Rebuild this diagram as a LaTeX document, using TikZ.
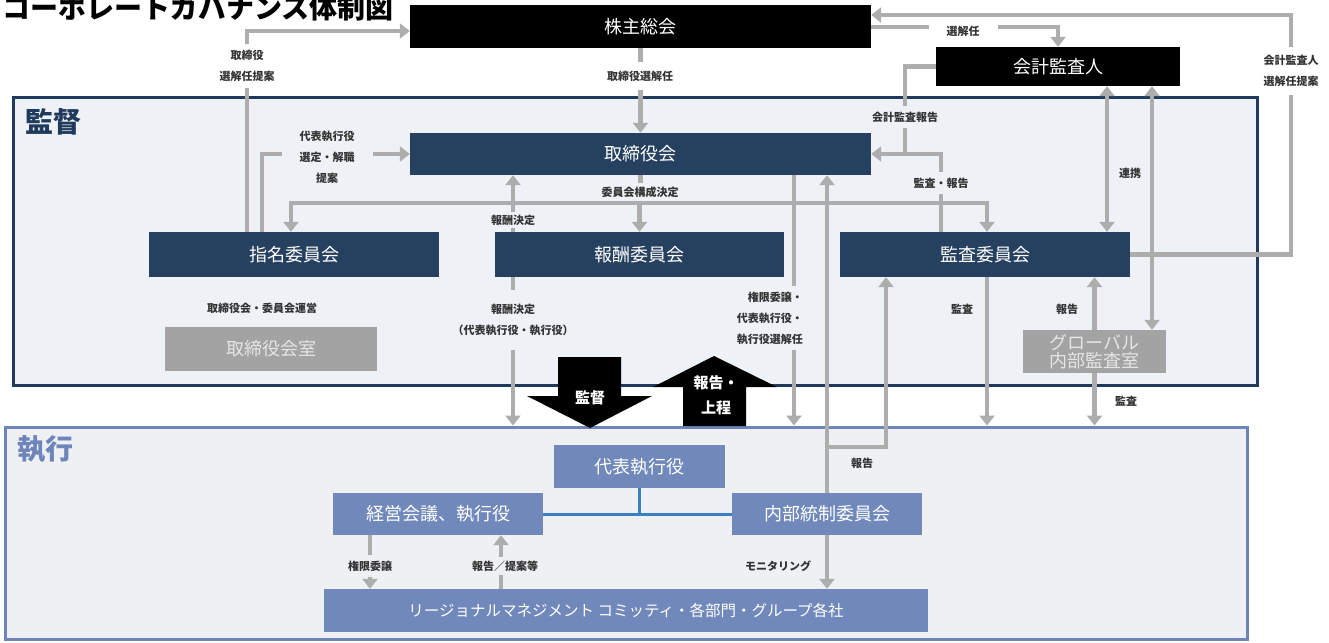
\documentclass[tikz,border=0pt]{standalone}
\usepackage{fontspec}
\setmainfont{Noto Sans CJK JP}
\usetikzlibrary{arrows.meta,calc,positioning}
\definecolor{navybox}{HTML}{26405F}
\definecolor{navyline}{HTML}{1F3A5C}
\definecolor{supbg}{HTML}{EEF2F7}
\definecolor{exebox}{HTML}{7088BA}
\definecolor{exeline}{HTML}{6D85B8}
\definecolor{exebg}{HTML}{EEF0F4}
\definecolor{officegray}{HTML}{A3A3A3}
\definecolor{wiregray}{HTML}{ADADAD}
\definecolor{linkblue}{HTML}{3D80C2}
\definecolor{notetext}{HTML}{333333}
\tikzset{
    blackbox/.style={
    rectangle,fill=black,text=white,inner sep=0pt,font=\fontsize{18}{22}\selectfont
    },
    committee/.style={
    rectangle,fill=navybox,text=white,inner sep=0pt,font=\fontsize{18}{22}\selectfont
    },
    office/.style={
    rectangle,fill=officegray,text=white!90!black,inner sep=0pt,font=\fontsize{18}{18}\selectfont
    },
    execbox/.style={
    rectangle,fill=exebox,text=white,inner sep=0pt,font=\fontsize{18}{22}\selectfont
    },
    supframe/.style={
    rectangle,draw=navyline,fill=supbg,line width=3pt,inner sep=0pt
    },
    exeframe/.style={
    rectangle,draw=exeline,fill=exebg,line width=3pt,inner sep=0pt
    },
    framehead/.style={
    font=\fontsize{28}{30}\selectfont\bfseries,inner sep=0pt
    },
    note/.style={
    fill=supbg,text=notetext,align=center,inner xsep=4pt,inner ysep=6pt,font=\fontsize{11}{21}\selectfont\bfseries
    },
    wire/.style={
    draw=wiregray,line width=4.5pt,>={Triangle[width=15pt,length=10pt]}
    },
    bluelink/.style={
    draw=linkblue,line width=3pt
    },
    bigarrow/.style={
    fill=black
    },
    arrowtext/.style={
    text=white,font=\fontsize{15}{25}\selectfont\bfseries,align=center,inner sep=0pt
    },
}
\begin{document}
\begin{tikzpicture}[x=1pt,y=-1pt]
  \clip (0,0) rectangle (1329,642);
  \fill[white] (0,0) rectangle (1329,642);

  % frames
  \node[supframe,minimum width=1244pt,minimum height=288pt] (sup) at (635,241) {};
  \node[exeframe,minimum width=1242pt,minimum height=212pt] (exe) at (626,533) {};
  \node[framehead,text=navyline] (suphead) at (53,122) {監督};
  \node[framehead,text=exeline] (exehead) at (45,449) {執行};
  \node[framehead,text=black,anchor=base west] (title) at (2,19) {コーポレートガバナンス体制図};

  % boxes
  \node[blackbox,minimum width=461pt,minimum height=43pt] (gsm) at (640.5,26.5) {株主総会};
  \node[blackbox,minimum width=244pt,minimum height=39pt] (auditor) at (1058,66.5) {会計監査人};
  \node[committee,minimum width=461pt,minimum height=42pt] (board) at (640.5,154) {取締役会};
  \node[committee,minimum width=290pt,minimum height=45pt] (nomcom) at (294,254.5) {指名委員会};
  \node[committee,minimum width=289pt,minimum height=45pt] (remcom) at (639.5,254.5) {報酬委員会};
  \node[committee,minimum width=290pt,minimum height=45pt] (audcom) at (985,254.5) {監査委員会};
  \node[office,minimum width=212pt,minimum height=44pt] (boardoffice) at (271,349) {取締役会室};
  \node[office,minimum width=143pt,minimum height=43pt,align=center] (intaudit) at (1094.5,351.5) {グローバル\\内部監査室};
  \node[execbox,minimum width=171pt,minimum height=43pt] (ceo) at (639.5,466.5) {代表執行役};
  \node[execbox,minimum width=210pt,minimum height=42pt] (mgmt) at (438,514) {経営会議、執行役};
  \node[execbox,minimum width=190pt,minimum height=42pt] (icc) at (827,514) {内部統制委員会};
  \node[execbox,minimum width=604pt,minimum height=43pt,font=\fontsize{15.5}{20}\selectfont] (region) at (626,610.5) {リージョナルマネジメント コミッティ・各部門・グループ各社};

  % big arrows
  \fill[bigarrow] (558,357) -- (621,357) -- (621,396) -- (652,396) -- (590,428) -- (527,396) -- (558,396) -- cycle;
  \node[arrowtext] (supword) at (590,398) {監督};
  \fill[bigarrow] (714,356) -- (777,387) -- (746,387) -- (746,426) -- (683,426) -- (683,387) -- (653,387) -- cycle;
  \node[arrowtext] (reportword) at (716,395) {報告・\\上程};

  % connector lanes
  \coordinate (xprop) at (247,0);
  \coordinate (xceo) at (262,0);
  \coordinate (xnom) at (291,0);
  \coordinate (xrem) at (513,0);
  \coordinate (xdeleg) at (794,0);
  \coordinate (xicc) at (886,0);
  \coordinate (xacc) at (905,0);
  \coordinate (xaud) at (941,0);
  \coordinate (xmon) at (987,0);
  \coordinate (xlinka) at (1107,0);
  \coordinate (xlinkb) at (1152,0);
  \coordinate (xrec) at (1291,0);
  \coordinate (xdown) at (370,0);
  \coordinate (xup) at (501,0);
  \coordinate (ytop) at (0,15);
  \coordinate (ysel) at (0,27);
  \coordinate (yprop) at (0,31);
  \coordinate (ycom) at (0,203);
  \coordinate (yrep) at (0,447);

  % supervision side
  \draw[wire,->] (nomcom.north -| xprop) |- (gsm.west |- yprop);
  \draw[wire,->] (nomcom.north -| xceo) |- (board.west);
  \draw[wire,->] (gsm.south) -- (board.north);
  \draw[wire] (board.south) -- (board.south |- ycom);
  \draw[wire,->] (board.south |- ycom) -| (nomcom.north -| xnom);
  \draw[wire,->] (board.south |- ycom) -| (audcom.north -| xmon);
  \draw[wire,->] (remcom.north |- ycom) -- (remcom.north);
  \draw[wire,->] (remcom.north -| xrem) -- (board.south -| xrem);
  \draw[wire,->] (remcom.south -| xrem) -- (exe.north -| xrem);
  \draw[wire,->] (board.south -| xdeleg) -- (exe.north -| xdeleg);
  \draw[wire,->] (icc.north) -- (board.south -| icc.north);
  \draw[wire,->] (icc.north |- yrep) -| (audcom.south -| xicc);
  \draw[wire,->] (audcom.south -| xmon) -- (exe.north -| xmon);
  \draw[wire,->] (intaudit.north) -- (audcom.south -| intaudit.north);
  \draw[wire,->] (intaudit.south) -- (exe.north -| intaudit.south);
  \draw[wire,<->] (auditor.south -| xlinka) -- (audcom.north -| xlinka);
  \draw[wire,<->] (auditor.south -| xlinkb) -- (intaudit.north -| xlinkb);
  \draw[wire] (auditor.west) -| (board.east -| xacc);
  \draw[wire,->] (audcom.north -| xaud) |- (board.east);
  \draw[wire,->] (audcom.east) -| (xrec |- ytop) -- (gsm.east |- ytop);
  \draw[wire,->] (gsm.east |- ysel) -| (auditor.north);

  % execution side
  \draw[wire,->] (mgmt.south -| xdown) -- (region.north -| xdown);
  \draw[wire,->] (region.north -| xup) -- (mgmt.south -| xup);
  \draw[wire,->] (icc.south) -- (region.north -| icc.south);
  \draw[bluelink] (mgmt.east) -- (icc.west);
  \draw[bluelink] (ceo.south) -- (ceo.south |- mgmt.east);

  % notes
  \node[note,fill=white] (nprop) at (247,66) {取締役\\選解任提案};
  \node[note,inner xsep=18pt] (nceo) at (327,157) {代表執行役\\選定・解職\\提案};
  \node[note,fill=white,inner ysep=9pt] (nelect) at (640,76) {取締役選解任};
  \node[note,inner ysep=4pt] (ncomp) at (640,192) {委員会構成決定};
  \node[note,inner ysep=3pt] (nrem) at (513,220) {報酬決定};
  \node[note,inner ysep=14pt] (nremexe) at (513,320) {報酬決定\\（代表執行役・執行役）};
  \node[note,align=right,anchor=east,inner xsep=2pt] (ndeleg) at (805,318) {権限委譲・\\代表執行役・\\執行役選解任};
  \node[note,fill=white,inner xsep=18pt,inner ysep=3pt] (nsel) at (963,31) {選解任};
  \node[note] (nacc) at (905,117) {会計監査報告};
  \node[note] (naud) at (941,183) {監査・報告};
  \node[note,fill=none] (nlink) at (1130,173) {連携};
  \node[note,fill=white,inner ysep=8pt] (nrec) at (1291,71) {会計監査人\\選解任提案};
  \node[note,fill=none] (nmon) at (962,309) {監査};
  \node[note,fill=none] (niarep) at (1067,309) {報告};
  \node[note,fill=none] (niaaud) at (1126,401) {監査};
  \node[note,fill=none] (noffice) at (262,308) {取締役会・委員会運営};
  \node[note,fill=none] (niccrep) at (862,463) {報告};
  \node[note,fill=exebg] (ndown) at (370,566) {権限委譲};
  \node[note,fill=exebg,inner ysep=4pt] (nup) at (505,566) {報告／提案等};
  \node[note,fill=none] (nmonitor) at (778,566) {モニタリング};
\end{tikzpicture}
\end{document}
